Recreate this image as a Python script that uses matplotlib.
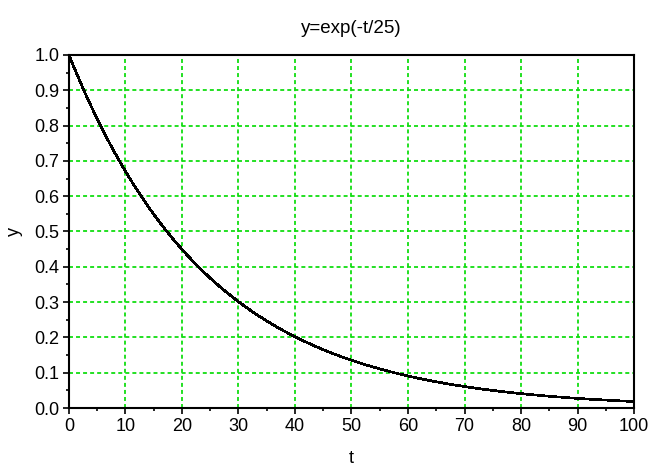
import matplotlib
matplotlib.use("Agg")
import matplotlib.pyplot as plt
from matplotlib.ticker import MultipleLocator

# Sampled decay y = exp(-t/25) at integer t
t = list(range(0, 101))
y = [
    1.0000, 0.9608, 0.9231, 0.8869, 0.8521, 0.8187, 0.7866, 0.7558, 0.7261, 0.6977,
    0.6703, 0.6440, 0.6188, 0.5945, 0.5712, 0.5488, 0.5273, 0.5066, 0.4868, 0.4677,
    0.4493, 0.4317, 0.4148, 0.3985, 0.3829, 0.3679, 0.3535, 0.3396, 0.3263, 0.3135,
    0.3012, 0.2894, 0.2780, 0.2671, 0.2567, 0.2466, 0.2369, 0.2276, 0.2187, 0.2101,
    0.2019, 0.1940, 0.1864, 0.1791, 0.1720, 0.1653, 0.1588, 0.1526, 0.1466, 0.1409,
    0.1353, 0.1300, 0.1249, 0.1200, 0.1153, 0.1108, 0.1065, 0.1023, 0.0983, 0.0944,
    0.0907, 0.0872, 0.0837, 0.0805, 0.0773, 0.0743, 0.0714, 0.0686, 0.0659, 0.0633,
    0.0608, 0.0584, 0.0561, 0.0539, 0.0518, 0.0498, 0.0478, 0.0460, 0.0442, 0.0424,
    0.0408, 0.0392, 0.0376, 0.0362, 0.0347, 0.0334, 0.0321, 0.0308, 0.0296, 0.0284,
    0.0273, 0.0263, 0.0252, 0.0242, 0.0233, 0.0224, 0.0215, 0.0207, 0.0198, 0.0191,
    0.0183,
]
x_ticks = [0, 10, 20, 30, 40, 50, 60, 70, 80, 90, 100]
y_ticks = [0.0, 0.1, 0.2, 0.3, 0.4, 0.5, 0.6, 0.7, 0.8, 0.9, 1.0]
title = "y=exp(-t/25)"

plt.rcParams["font.family"] = ["Liberation Sans", "DejaVu Sans"]

fig = plt.figure(figsize=(6.49, 4.70), dpi=100)
ax = fig.add_axes([0.1063, 0.1319, 0.8706, 0.7511])

# aliased line gives the pixel-stepped look of the curve
ax.plot(t, y, color="black", lw=1.2, antialiased=False, zorder=3)

ax.set_xlim(0, 100)
ax.set_ylim(0, 1.0)
ax.set_xticks(x_ticks)
ax.set_yticks(y_ticks)
ax.set_xticklabels([str(v) for v in x_ticks])
ax.set_yticklabels([f"{v:.1f}" for v in y_ticks])
ax.xaxis.set_minor_locator(MultipleLocator(5))
ax.yaxis.set_minor_locator(MultipleLocator(0.05))

ax.tick_params(which="major", direction="out", length=4, width=1.2,
               labelsize=13, pad=3, colors="black")
ax.tick_params(which="minor", direction="out", length=2.2, width=1.2)

for s in ax.spines.values():
    s.set_linewidth(1.5)
    s.set_color("black")

ax.grid(True, which="major", color="#11dd11", lw=1.3,
        linestyle=(0, (2.2, 1.7)), zorder=1)
ax.set_axisbelow(True)

ax.set_title(title, fontsize=13.5, pad=16)
ax.set_xlabel("t", fontsize=13, labelpad=11)
ax.set_ylabel("y", fontsize=13, labelpad=8)

fig.savefig("out.png", dpi=100)
